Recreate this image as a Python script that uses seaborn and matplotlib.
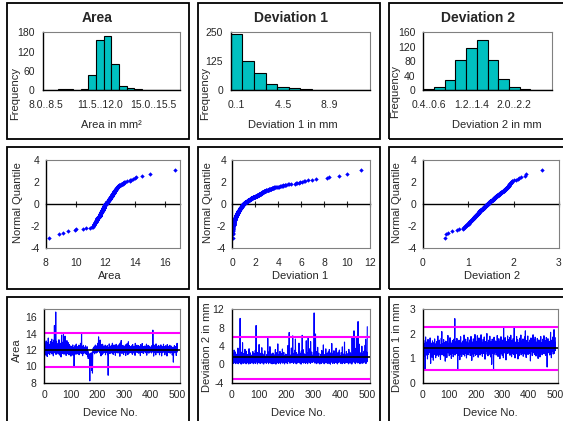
import statistics

import matplotlib
matplotlib.use("Agg")
import matplotlib.pyplot as plt
from matplotlib.patches import Rectangle
import numpy as np
import seaborn as sns

W, H = 563, 421

# histogram bins and counts
AREA_BINS = ["8.0..8.5", "8.5..9.0", "9.0..9.5", "9.5..10.0", "10.0..10.5", "10.5..11.0",
             "11.0..11.5", "11.5..12.0", "12.0..12.5", "12.5..13.0", "13.0..13.5", "13.5..14.0",
             "14.0..14.5", "14.5..15.0", "15.0..15.5", "15.5..16.0", "16.0..16.5", "16.5..17.0"]
AREA_COUNTS = [0, 1, 2, 2, 1, 3, 48, 155, 168, 80, 14, 5, 2, 1, 1, 0, 0, 1]
DEV1_BINS = ["0..1", "1..2", "2..3", "3..4", "4..5", "5..6",
             "6..7", "7..8", "8..9", "9..10", "10..11", "11..12"]
DEV1_COUNTS = [242, 127, 75, 28, 14, 9, 4, 1, 2, 2, 0, 1]
DEV2_BINS = ["0.4..0.6", "0.6..0.8", "0.8..1.0", "1.0..1.2", "1.2..1.4", "1.4..1.6",
             "1.6..1.8", "1.8..2.0", "2.0..2.2", "2.2..2.4", "2.4..2.6", "2.6..2.8"]
DEV2_COUNTS = [2, 8, 28, 83, 116, 140, 83, 30, 8, 2, 0, 1]

# per-device measurements (device 1..500)
AREA = [
    12.31, 11.62, 12.85, 11.94, 12.47, 11.38, 13.12, 12.06, 11.75, 12.58, 11.21, 12.93, 11.86, 12.24, 13.48, 11.57, 12.12, 11.93, 12.71, 11.44, 12.36, 11.81, 13.05, 12.19, 11.68,
    12.44, 11.97, 13.34, 11.52, 12.27, 12.88, 11.73, 12.05, 11.29, 13.21, 12.62, 11.88, 15.02, 12.39, 11.64, 13.62, 12.15, 16.67, 11.46, 12.53, 13.08, 11.91, 12.34, 11.71, 12.77,
    12.08, 11.53, 12.66, 11.84, 13.27, 12.21, 11.39, 12.49, 11.96, 12.83, 11.67, 12.31, 11.15, 12.72, 13.84, 11.92, 12.18, 11.58, 12.95, 12.02, 11.77, 13.96, 12.26, 11.49, 12.61,
    11.86, 12.43, 13.71, 11.63, 12.12, 12.79, 11.34, 12.56, 11.98, 13.16, 12.09, 11.72, 12.37, 11.54, 12.91, 11.83, 12.24, 11.41, 12.68, 12.03, 11.69, 12.52, 11.92, 12.33, 11.26,
    12.14, 11.78, 12.46, 11.57, 12.21, 11.89, 12.63, 11.36, 12.05, 11.74, 12.28, 10.02, 11.65, 12.39, 11.97, 12.57, 11.82, 12.16, 11.48, 12.74, 11.93, 12.25, 11.61, 12.42, 11.85,
    12.07, 11.52, 12.34, 11.79, 12.61, 11.43, 12.18, 11.96, 12.49, 11.67, 12.83, 11.88, 12.22, 11.56, 14.02, 12.11, 11.73, 12.45, 11.31, 12.27, 11.94, 12.58, 11.62, 12.03, 11.85,
    12.36, 11.71, 12.14, 11.58, 12.52, 11.92, 12.29, 11.46, 12.08, 11.83, 12.41, 11.65, 11.27, 11.84, 10.96, 11.42, 11.55, 11.18, 11.53, 11.21, 8.22, 11.37, 10.71, 11.62, 11.08,
    9.96, 11.43, 9.52, 11.16, 11.74, 9.18, 11.57, 11.92, 12.24, 11.69, 12.37, 11.81, 12.13, 11.54, 12.46, 11.97, 12.62, 11.78, 12.19, 11.63, 12.51, 11.89, 12.28, 11.72, 12.04,
    12.83, 11.95, 12.32, 13.62, 11.84, 12.57, 12.11, 11.66, 12.44, 13.23, 11.91, 12.18, 11.29, 12.67, 12.02, 11.79, 12.35, 11.48, 12.72, 11.97, 12.26, 11.62, 12.49, 11.86, 12.14,
    11.73, 12.38, 11.95, 12.61, 11.42, 12.19, 11.84, 12.47, 11.68, 12.06, 11.91, 12.54, 11.44, 12.22, 8.91, 11.83, 12.31, 11.64, 12.76, 11.98, 12.13, 11.57, 12.42, 11.87, 12.25,
    11.76, 12.59, 11.93, 12.17, 11.61, 12.84, 11.88, 12.29, 11.47, 12.36, 11.99, 12.63, 11.72, 12.11, 11.85, 12.48, 11.36, 12.24, 11.94, 12.71, 11.68, 12.07, 11.81, 12.53, 11.92,
    12.18, 11.63, 12.44, 11.89, 12.02, 12.67, 11.75, 12.31, 11.24, 12.86, 11.97, 12.21, 11.69, 13.17, 11.84, 12.39, 11.58, 12.12, 11.93, 12.58, 11.77, 12.26, 11.45, 12.49, 11.91,
    12.05, 11.72, 12.37, 11.86, 12.64, 11.33, 12.19, 11.96, 12.45, 11.67, 12.78, 11.83, 12.23, 11.44, 12.09, 13.02, 11.88, 12.34, 11.62, 12.56, 11.94, 12.16, 11.74, 12.41, 11.85,
    12.27, 11.66, 12.52, 11.92, 12.13, 11.48, 12.69, 11.81, 12.35, 11.97, 12.04, 11.63, 12.46, 11.79, 12.21, 11.35, 12.83, 11.91, 12.17, 11.71, 12.38, 11.84, 12.61, 11.95, 12.08,
    11.69, 12.32, 11.87, 12.55, 11.61, 12.14, 11.98, 12.47, 11.76, 12.24, 11.32, 12.66, 11.89, 12.11, 11.73, 12.39, 11.94, 12.81, 11.65, 12.19, 11.86, 12.43, 11.58, 12.06, 11.92,
    12.29, 11.78, 12.51, 11.83, 12.16, 11.67, 12.44, 11.96, 12.73, 11.37, 12.22, 11.88, 12.03, 11.74, 12.58, 11.91, 12.34, 11.62, 12.12, 11.85, 12.47, 11.71, 12.26, 11.97, 12.09,
    11.82, 12.37, 11.64, 12.54, 11.93, 12.18, 11.77, 14.45, 11.89, 12.28, 11.26, 12.62, 11.95, 12.07, 11.69, 12.41, 11.84, 12.23, 11.41, 12.76, 11.92, 12.14, 11.73, 12.49, 11.87,
    12.31, 11.66, 12.02, 11.94, 12.57, 11.79, 12.25, 11.41, 12.39, 11.86, 12.11, 11.74, 12.64, 11.97, 12.19, 11.28, 12.46, 11.83, 12.08, 11.68, 12.35, 11.91, 12.72, 11.76, 12.22,
    11.88, 12.43, 11.42, 12.16, 11.95, 12.53, 11.72, 12.29, 11.84, 12.05, 11.27, 12.67, 11.93, 12.38, 11.69, 12.12, 11.86, 12.47, 11.75, 12.24, 11.98, 12.59, 11.62, 12.33, 11.89,
    12.14, 11.71, 12.48, 11.85, 12.27, 11.39, 12.06, 11.94, 12.36, 10.52, 11.78, 12.21, 11.67, 12.55, 11.91, 12.18, 11.73, 12.42, 11.86, 12.09, 11.34, 12.31, 11.95, 12.83, 11.76,
]
DEV1 = [
    0.42, 1.37, 0.08, 2.46, 0.73, 0.21, 1.84, 0.56, 3.12, 0.94, 0.33, 1.12, 2.71, 0.67, 0.15, 1.58, 0.88, 0.47, 2.23, 0.29, 1.06, 0.61, 3.54, 0.12, 1.73,
    0.79, 0.36, 2.08, 0.53, 1.45, 10.02, 0.24, 0.91, 1.92, 0.05, 2.64, 0.68, 1.27, 0.44, 4.71, 0.83, 0.18, 1.66, 0.57, 2.37, 0.97, 0.31, 1.19, 3.28, 0.72,
    0.49, 1.53, 0.11, 2.86, 0.64, 0.26, 1.31, 0.85, 2.15, 0.39, 0.93, 1.78, 0.07, 3.41, 0.58, 1.09, 0.34, 2.52, 0.76, 0.19, 1.42, 0.62, 2.01, 0.45, 1.24,
    0.87, 0.28, 2.79, 0.54, 1.63, 0.13, 0.96, 2.34, 0.41, 1.17, 0.69, 3.07, 0.22, 1.88, 8.47, 0.51, 1.35, 0.74, 2.58, 0.09, 0.82, 1.51, 0.37, 2.19, 0.65,
    4.32, 0.48, 1.21, 0.89, 0.16, 2.42, 0.71, 1.69, 0.32, 0.98, 3.63, 0.55, 1.04, 0.27, 2.27, 0.78, 1.46, 0.06, 0.92, 1.83, 0.43, 2.94, 0.63, 1.15, 0.35,
    0.84, 1.72, 0.23, 2.11, 0.59, 1.28, 0.95, 5.68, 0.38, 1.57, 0.14, 2.69, 0.77, 1.01, 0.46, 3.86, 0.66, 1.39, 0.25, 2.31, 0.86, 0.52, 1.94, 0.10, 1.13,
    0.58, 2.48, 0.31, 1.62, 0.93, 0.17, 2.05, 0.72, 1.36, 0.44, 3.22, 0.81, 0.04, 1.76, 0.67, 2.55, 0.29, 1.08, 0.90, 4.46, 0.53, 1.41, 0.20, 2.17, 0.75,
    1.23, 0.40, 2.83, 0.61, 0.12, 1.54, 0.88, 2.36, 0.47, 1.11, 0.70, 3.35, 0.26, 1.67, 0.98, 0.34, 2.62, 0.56, 1.29, 0.08, 0.83, 1.95, 0.49, 2.24, 0.65,
    1.48, 0.30, 2.13, 0.79, 1.06, 0.15, 4.08, 0.62, 1.33, 0.91, 2.74, 6.95, 0.43, 1.59, 0.24, 2.02, 0.87, 1.18, 0.36, 3.57, 0.71, 1.85, 0.52, 0.97, 6.21,
    0.44, 1.74, 0.19, 2.39, 0.68, 1.26, 0.85, 3.09, 0.33, 5.52, 0.57, 1.43, 0.11, 2.58, 0.76, 1.02, 0.28, 2.21, 0.94, 0.48, 1.61, 0.64, 4.63, 0.37, 1.14,
    0.82, 2.47, 0.16, 1.38, 0.73, 0.05, 2.92, 0.55, 1.22, 6.33, 0.41, 1.69, 0.89, 3.18, 0.27, 1.05, 0.63, 2.28, 0.46, 1.52, 0.92, 0.21, 2.06, 0.69, 5.14,
    0.35, 1.87, 0.78, 2.53, 0.13, 1.31, 5.83, 0.58, 0.96, 2.16, 0.42, 1.64, 0.74, 3.46, 0.22, 4.97, 0.61, 1.12, 0.87, 2.69, 0.39, 1.47, 0.54, 2.01, 0.99,
    0.66, 1.34, 2.88, 11.21, 0.30, 1.56, 0.81, 2.35, 6.62, 0.47, 1.23, 0.14, 2.77, 0.93, 1.09, 0.52, 3.71, 0.25, 1.79, 0.71, 2.44, 0.38, 1.17, 0.84, 0.07,
    1.62, 0.45, 2.19, 0.77, 1.03, 0.20, 3.03, 0.59, 1.41, 0.90, 2.63, 0.34, 4.24, 0.68, 1.27, 0.12, 2.09, 0.86, 1.54, 0.50, 0.97, 3.38, 0.29, 1.71, 0.62,
    0.41, 2.32, 0.79, 1.19, 0.16, 2.71, 0.57, 1.46, 0.94, 3.24, 0.27, 1.88, 0.70, 0.04, 2.49, 0.83, 1.36, 0.48, 4.55, 0.63, 1.08, 0.23, 2.26, 0.88, 1.60,
    0.53, 2.97, 0.18, 1.32, 0.76, 2.14, 0.43, 1.73, 0.95, 3.52, 0.31, 1.15, 0.66, 2.41, 0.09, 1.49, 0.85, 2.67, 0.37, 1.24, 0.72, 3.13, 0.56, 0.98, 1.90,
    0.24, 1.44, 0.81, 2.57, 0.47, 1.07, 0.14, 3.81, 0.64, 1.63, 0.92, 2.23, 0.35, 1.28, 0.75, 4.86, 0.19, 1.52, 0.60, 2.04, 0.87, 0.44, 2.82, 0.69, 1.21,
    0.32, 1.78, 0.55, 2.38, 0.90, 0.11, 3.27, 0.73, 1.39, 0.49, 2.61, 0.26, 1.13, 0.84, 2.18, 0.58, 1.67, 0.06, 5.91, 0.40, 3.64, 0.97, 1.32, 0.67, 2.46,
    7.31, 0.36, 1.58, 0.82, 2.73, 0.15, 1.05, 3.49, 0.62, 6.08, 0.46, 2.29, 0.94, 1.18, 0.28, 9.33, 0.71, 1.84, 0.50, 4.41, 0.88, 1.26, 0.13, 2.52, 0.77,
    1.43, 0.39, 2.11, 0.65, 3.96, 0.21, 1.69, 0.86, 2.34, 0.54, 1.10, 0.30, 2.87, 0.74, 1.55, 0.93, 4.18, 0.47, 5.47, 0.17, 1.37, 0.80, 2.65, 0.58, 8.21,
]
DEV2 = [
    1.52, 1.18, 1.41, 1.73, 1.26, 1.49, 1.07, 1.61, 0.51, 1.34, 1.87, 1.22, 1.45, 1.66, 1.13, 1.38, 1.58, 0.97, 1.29, 1.77, 1.42, 1.16, 1.55, 1.31, 1.69,
    1.24, 1.47, 1.83, 1.11, 0.79, 1.36, 1.62, 1.19, 1.51, 1.04, 1.39, 1.71, 1.28, 1.57, 0.92, 1.44, 1.21, 1.65, 1.33, 1.79, 1.15, 1.48, 1.37, 1.02, 1.59,
    1.43, 1.27, 1.68, 1.12, 1.54, 1.35, 1.91, 1.23, 1.46, 1.08, 1.63, 1.31, 1.74, 1.17, 1.50, 1.39, 0.95, 1.56, 1.25, 1.82, 1.40, 2.09, 1.14, 1.60, 1.30,
    1.53, 1.20, 1.45, 1.76, 1.09, 1.38, 1.64, 1.26, 1.49, 0.88, 1.35, 1.70, 1.18, 1.58, 1.42, 1.03, 1.67, 1.29, 1.51, 1.93, 1.22, 1.44, 1.36, 1.61, 1.10,
    1.47, 1.32, 1.84, 1.16, 1.55, 1.27, 1.41, 0.99, 1.62, 1.37, 1.21, 1.72, 1.30, 1.52, 1.06, 1.46, 1.78, 1.24, 1.40, 1.59, 2.62, 1.13, 1.48, 1.33, 1.69,
    1.19, 1.54, 1.35, 1.81, 1.26, 1.43, 0.56, 1.65, 1.12, 1.50, 1.38, 1.74, 1.22, 1.57, 0.94, 1.45, 1.31, 1.88, 1.17, 1.53, 1.40, 1.07, 1.63, 1.28, 1.49,
    1.36, 1.71, 1.15, 1.58, 1.25, 1.95, 1.42, 1.09, 1.60, 1.33, 1.47, 1.78, 1.20, 1.52, 1.01, 1.39, 1.67, 1.27, 1.44, 1.85, 1.14, 1.56, 1.34, 1.62, 1.23,
    1.50, 1.29, 1.75, 1.11, 1.46, 1.37, 1.89, 1.24, 1.55, 0.91, 1.41, 1.66, 1.18, 1.53, 1.32, 1.79, 1.06, 1.48, 1.38, 1.64, 1.21, 1.97, 1.35, 1.12, 1.57,
    1.43, 1.26, 1.69, 1.15, 1.51, 1.92, 1.30, 1.47, 1.04, 1.61, 1.37, 1.83, 1.22, 1.54, 1.40, 1.13, 1.72, 1.28, 1.49, 1.96, 1.19, 1.58, 1.34, 1.65, 1.08,
    1.45, 1.31, 1.77, 1.20, 1.56, 1.39, 1.87, 1.25, 1.50, 0.96, 1.42, 1.68, 1.16, 1.52, 1.33, 1.81, 2.01, 1.46, 1.27, 1.63, 1.10, 1.55, 1.36, 1.74, 1.23,
    1.48, 1.32, 1.90, 1.14, 1.59, 1.38, 1.05, 1.67, 1.27, 0.75, 1.44, 1.78, 1.21, 1.53, 1.35, 1.62, 0.50, 1.41, 1.86, 1.17, 1.50, 1.30, 1.71, 1.24, 1.57,
    1.39, 1.13, 1.66, 1.29, 1.52, 1.93, 1.20, 1.46, 1.07, 1.60, 1.36, 1.80, 1.25, 1.55, 1.42, 0.98, 1.70, 1.31, 1.49, 1.88, 1.18, 1.58, 1.34, 1.64, 1.11,
    1.47, 1.28, 1.75, 1.02, 2.27, 1.37, 1.63, 1.22, 1.54, 1.40, 1.84, 1.16, 1.50, 0.93, 1.44, 1.69, 1.26, 1.57, 1.33, 1.91, 1.19, 1.48, 1.35, 1.76, 1.24,
    1.51, 1.30, 1.85, 1.12, 1.45, 1.38, 1.94, 1.27, 1.59, 1.06, 1.43, 1.72, 1.20, 1.55, 1.34, 1.80, 1.15, 1.49, 1.64, 2.25, 1.29, 1.41, 1.01, 1.60, 1.36,
    1.23, 1.67, 1.40, 1.89, 1.18, 1.52, 1.33, 1.76, 0.97, 1.46, 1.28, 1.63, 1.10, 1.56, 1.37, 1.82, 1.25, 1.50, 1.42, 1.95, 1.14, 1.58, 1.31, 1.70, 1.21,
    1.54, 1.35, 1.79, 1.08, 1.47, 1.26, 1.68, 1.39, 1.87, 1.17, 1.53, 2.12, 1.30, 1.44, 1.03, 1.61, 1.36, 1.73, 1.22, 1.49, 1.91, 1.15, 1.57, 1.32, 1.65,
    1.41, 1.20, 1.74, 1.34, 1.58, 0.89, 1.46, 1.83, 1.27, 1.52, 1.38, 1.69, 1.11, 1.55, 1.43, 1.96, 1.24, 1.50, 1.33, 1.77, 1.16, 1.60, 1.40, 1.86, 1.29,
    1.45, 1.09, 1.66, 1.37, 1.53, 1.23, 1.81, 1.32, 1.48, 0.99, 1.62, 1.28, 1.75, 1.19, 1.42, 1.57, 1.05, 1.70, 1.35, 1.89, 1.25, 1.51, 1.39, 1.64, 1.14,
    1.56, 1.33, 1.78, 1.21, 1.47, 1.40, 1.92, 1.18, 1.60, 1.30, 1.44, 1.71, 1.12, 1.54, 1.36, 1.85, 1.26, 1.49, 0.64, 1.63, 1.38, 1.80, 1.22, 1.58, 1.34,
    1.46, 1.27, 1.69, 1.13, 1.51, 1.41, 2.06, 1.24, 1.55, 1.02, 1.37, 1.74, 1.29, 1.60, 1.43, 1.87, 1.17, 1.52, 1.35, 2.17, 1.20, 1.48, 1.66, 1.31, 1.84,
]

# control limits (centre line, upper, lower)
AREA_LIMITS = [12.07, 14.15, 9.98]
DEV1_LIMITS = [1.53, 6.04, -3.13]
DEV2_LIMITS = [1.40, 2.29, 0.52]

TEAL = "#00C0C0"
BLUE = "#0000FF"
MAGENTA = "#FF00FF"
GRAY = "#808080"
TICK_FS = 7.5
LABEL_FS = 8
TITLE_FS = 10


def px_axes(fig, left, top, right, bottom):
    return fig.add_axes([left / W, 1 - bottom / H, (right - left) / W, (bottom - top) / H])


def px_text(fig, x, y, s, **kw):
    kw.setdefault("fontsize", LABEL_FS)
    fig.text(x / W, 1 - y / H, s, ha="center", va="center", **kw)


def frame(ax, gray_bottom=False):
    for side in ["top", "right"]:
        ax.spines[side].set_color(GRAY)
        ax.spines[side].set_linewidth(0.8)
    ax.spines["left"].set_color("black")
    ax.spines["left"].set_linewidth(1.0)
    ax.spines["bottom"].set_color(GRAY if gray_bottom else "black")
    ax.spines["bottom"].set_linewidth(0.8 if gray_bottom else 1.0)
    ax.set_xlabel("")
    ax.set_ylabel("")


def draw_hist(ax, bins, counts, yticks, label_every):
    sns.barplot(x=bins, y=counts, ax=ax, color=TEAL, saturation=1, width=1.0,
                edgecolor="black", linewidth=0.8)
    ax.set_xlim(-0.5, len(bins) - 0.5)
    ax.set_ylim(0, yticks[-1])
    ax.set_yticks(yticks)
    pos = list(range(0, len(bins), label_every))
    ax.set_xticks(pos, [bins[i] for i in pos])
    ax.tick_params(axis="x", length=0, pad=7, labelsize=TICK_FS)
    ax.tick_params(axis="y", direction="inout", length=5, width=0.8, pad=3, labelsize=TICK_FS)
    frame(ax)


def draw_qq(ax, values, xlim, xticks):
    n = len(values)
    nd = statistics.NormalDist()
    quantiles = [nd.inv_cdf((i - 0.5) / n) for i in range(1, n + 1)]
    sns.scatterplot(x=np.sort(values), y=quantiles, ax=ax, color=BLUE, marker="D",
                    s=5, linewidth=0)
    ax.set_xlim(*xlim)
    ax.set_ylim(-4, 4)
    ax.set_yticks([-4, -2, 0, 2, 4])
    ax.set_xticks(xticks)
    ax.tick_params(axis="x", length=0, pad=7, labelsize=TICK_FS)
    ax.tick_params(axis="y", direction="inout", length=5, width=0.8, pad=2, labelsize=TICK_FS)
    frame(ax, gray_bottom=True)
    mid = ax.secondary_xaxis(0.5)
    mid.set_xticks(xticks)
    mid.tick_params(direction="inout", length=5, width=0.8, labeltop=False, labelbottom=False)
    for sp in mid.spines.values():
        sp.set_color("black")
        sp.set_linewidth(1.0)


def draw_control(ax, values, limits, ylim, yticks):
    devices = np.arange(1, len(values) + 1)
    sns.lineplot(x=devices, y=values, ax=ax, color=BLUE, linewidth=0.8, errorbar=None)
    centre, upper, lower = limits
    ax.axhline(upper, color=MAGENTA, linewidth=1.5)
    ax.axhline(lower, color=MAGENTA, linewidth=1.5)
    ax.axhline(centre, color="black", linewidth=1.2)
    ax.set_xlim(0, 510)
    ax.set_xticks([0, 100, 200, 300, 400, 500])
    ax.set_ylim(*ylim)
    ax.set_yticks(yticks)
    ax.tick_params(axis="x", direction="inout", length=5, width=0.8, pad=3, labelsize=TICK_FS)
    ax.tick_params(axis="y", direction="inout", length=5, width=0.8, pad=3, labelsize=TICK_FS)
    frame(ax)


def main():
    sns.set_theme(style="white")
    plt.rcParams["font.family"] = ["Liberation Sans", "DejaVu Sans"]
    plt.rcParams["axes.unicode_minus"] = False
    fig = plt.figure(figsize=(W / 100, H / 100), dpi=100)

    # chart boxes
    cols = [(7.5, 188.5), (197.5, 379.5), (388.5, 570)]
    rows = [(3.3, 138.5), (147.3, 289.3), (297.3, 430)]
    for x0, x1 in cols:
        for y0, y1 in rows:
            fig.patches.append(Rectangle((x0 / W, 1 - y1 / H), (x1 - x0) / W, (y1 - y0) / H,
                                         transform=fig.transFigure, fill=False,
                                         edgecolor="black", linewidth=1.3))

    # row 1: histograms
    ax = px_axes(fig, 42.5, 32.3, 180, 90)
    draw_hist(ax, AREA_BINS, AREA_COUNTS, [0, 60, 120, 180], 7)
    ax = px_axes(fig, 230.7, 32.3, 370, 90)
    draw_hist(ax, DEV1_BINS, DEV1_COUNTS, [0, 125, 250], 4)
    ax = px_axes(fig, 423.3, 32.3, 551.7, 90)
    draw_hist(ax, DEV2_BINS, DEV2_COUNTS, [0, 40, 80, 120, 160], 4)

    for x, title in [(97, "Area"), (291, "Deviation 1"), (478, "Deviation 2")]:
        px_text(fig, x, 18, title, fontweight="bold", fontsize=TITLE_FS)
    for x, lab in [(111, "Area in mm\u00b2"), (293, "Deviation 1 in mm"), (497, "Deviation 2 in mm")]:
        px_text(fig, x, 125, lab)
    for x, y in [(15, 94), (205, 94), (395, 91)]:
        px_text(fig, x, y, "Frequency", rotation=90)

    # row 2: normal quantile plots
    ax = px_axes(fig, 45.7, 160, 180, 248.3)
    draw_qq(ax, AREA, (8, 17), [8, 10, 12, 14, 16])
    ax = px_axes(fig, 232.3, 160, 370, 248.3)
    draw_qq(ax, DEV1, (0, 12), [0, 2, 4, 6, 8, 10, 12])
    ax = px_axes(fig, 422.7, 160, 559, 248.3)
    draw_qq(ax, DEV2, (0, 3), [0, 1, 2, 3])

    for x, lab in [(110, "Area"), (300, "Deviation 1"), (492, "Deviation 2")]:
        px_text(fig, x, 276, lab)
    for x in [18, 208, 397]:
        px_text(fig, x, 203, "Normal Quantile", rotation=90)

    # row 3: control charts
    ax = px_axes(fig, 44.3, 309.3, 180, 382.7)
    draw_control(ax, AREA, AREA_LIMITS, (8, 17), [8, 10, 12, 14, 16])
    ax = px_axes(fig, 231.7, 309.3, 370, 382.7)
    draw_control(ax, DEV1, DEV1_LIMITS, (-4, 12), [-4, 0, 4, 8, 12])
    ax = px_axes(fig, 422.7, 309.3, 558, 382.7)
    draw_control(ax, DEV2, DEV2_LIMITS, (0, 3), [0, 1, 2, 3])

    for x in [110, 298, 490]:
        px_text(fig, x, 412.7, "Device No.")
    for x, y, lab in [(17, 350, "Area"), (207, 347, "Deviation 2 in mm"), (397, 347, "Deviation 1 in mm")]:
        px_text(fig, x, y, lab, rotation=90)

    fig.savefig("out.png", dpi=100)
    plt.close(fig)


if __name__ == "__main__":
    main()
